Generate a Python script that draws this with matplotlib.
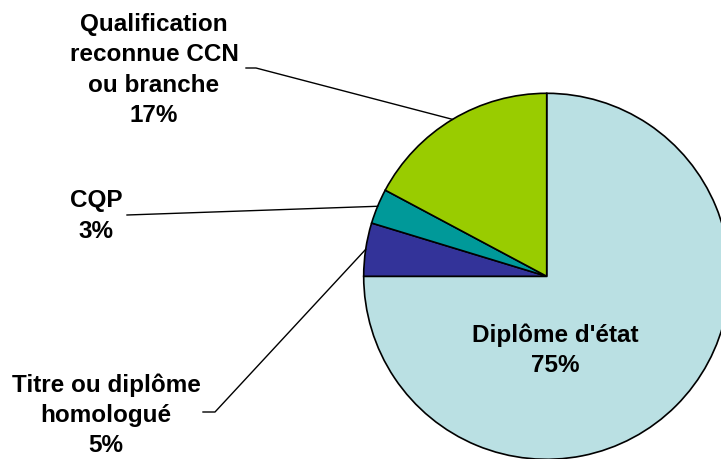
import numpy as np
import matplotlib.pyplot as plt

plt.rcParams['font.family'] = ['Liberation Sans', 'DejaVu Sans']

# -------------------------------------------------
# Data
# -------------------------------------------------
labels = ["Diplôme d'état", "Titre ou diplôme\nhomologué", "CQP",
          "Qualification\nreconnue CCN\nou branche"]
values = [75.0, 4.7, 3.1, 17.2]
colors = ["#BAE0E3", "#333399", "#009999", "#99CC00"]

# label layout (pixel coords, y from top)
text_pos = [(555, 350), (106, 415), (96, 216), (154, 70)]
line_start = [None, (203, 413), (127, 216), (246, 69)]
elbow = [None, 12, 0, 10]

W, H = 721, 460
fig = plt.figure(figsize=(W / 100, H / 100), dpi=100)
ax = fig.add_axes([0, 0, 1, 1])

cx, cy, r = 546.7, H - 277.3, 183
wedges, _ = ax.pie(values, colors=colors, startangle=90, counterclock=False,
                   center=(cx, cy), radius=r, frame=True,
                   wedgeprops=dict(edgecolor="black", linewidth=1.2))
ax.set_xlim(0, W)
ax.set_ylim(0, H)
ax.set_aspect("equal")
ax.axis("off")

for i, w in enumerate(wedges):
    txt = f"{labels[i]}\n{values[i]:.0f}%"
    tx, ty = text_pos[i]
    ax.text(tx, H - ty, txt, ha="center", va="center", fontsize=17.5,
            fontweight="bold", linespacing=1.4, color="black")
    if line_start[i] is None:
        continue
    mid = np.deg2rad((w.theta1 + w.theta2) / 2)
    ex, ey = cx + r * np.cos(mid), cy + r * np.sin(mid)
    sx, sy = line_start[i]
    xs = [sx, sx + elbow[i], ex]
    ys = [H - sy, H - sy, ey]
    ax.plot(xs, ys, color="black", linewidth=1.0)

fig.savefig("out.png", dpi=100)
